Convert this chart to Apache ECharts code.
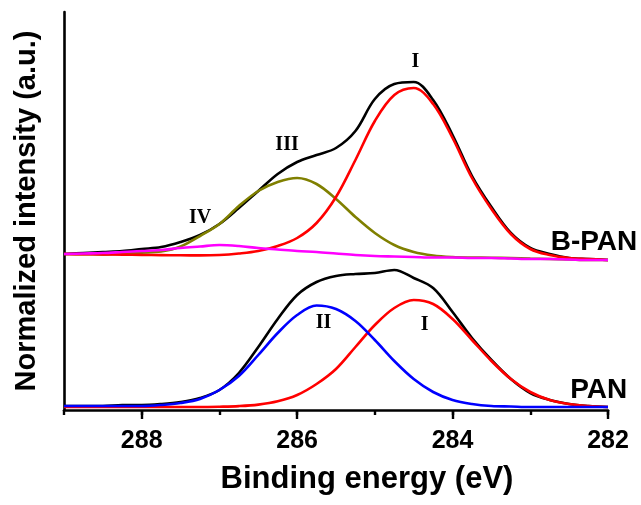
<!DOCTYPE html>
<html lang="en">
<head>
<meta charset="UTF-8">
<title>C1s XPS - PAN / B-PAN</title>
<script src="https://cdn.jsdelivr.net/npm/echarts@6/dist/echarts.min.js"></script>
<style>
  html, body { margin: 0; padding: 0; background: #fff; }
  #chart { width: 641px; height: 505px; }
</style>
</head>
<body>
<div id="chart"></div>
<script>
// binding energy (eV), read every 0.25 eV
var energies = [289, 288.75, 288.5, 288.25, 288, 287.75, 287.5, 287.25, 287, 286.75, 286.5, 286.25, 286, 285.75,
  285.5, 285.25, 285, 284.75, 284.5, 284.25, 284, 283.75, 283.5, 283.25, 283, 282.75, 282.5, 282.25, 282];

// PAN (lower spectrum)
var panTotal = [4, 4, 4, 5, 5, 6, 8, 12, 20, 37, 63, 91, 115, 128, 134, 136, 137, 140, 132, 122, 98, 72, 50, 31, 17, 10, 6, 4, 3];
var panI     = [3, 3, 3, 3, 3, 3, 3, 3, 3.3, 3.9, 5.4, 8.7, 15, 26, 41, 63, 85, 102, 110, 106, 91, 70, 49, 31, 18, 10, 6, 4, 3];
var panII    = [4, 4, 4, 4, 4, 5, 7, 11, 20, 34, 55, 77, 95, 104.5, 101, 89, 70, 49, 31, 18, 10, 6, 4, 3.5, 3, 3, 3, 3, 3];

// B-PAN (upper spectrum, offset)
var bpanTotal = [156, 157, 158, 159, 161, 163, 168, 175, 186, 202, 219, 236, 248, 255, 262, 279, 311, 326, 328, 310, 275, 234, 203, 177, 162, 156, 152, 151, 150];
var bpanI     = [156, 155.8, 155.6, 155.4, 155.1, 154.9, 154.7, 154.6, 155, 156.5, 159, 164, 172, 187, 213, 250, 289, 315, 322, 306, 272, 232, 201, 176, 161, 155, 152, 151, 150];
var bpanIII   = [156, 155.8, 155.6, 156.3, 157.3, 158.5, 163.5, 174, 186, 204, 219, 228, 232, 226, 211, 193, 177, 165, 158, 154.5, 153, 152.5, 152.3, 152, 151.5, 151, 150.5, 150, 150];
var bpanIV    = [156, 156.5, 157, 158, 159, 160, 162, 163.5, 165, 164, 162, 160.5, 159, 158, 156.5, 155, 154, 153.5, 153, 152.5, 152.5, 152, 152, 151.5, 151, 151, 150.5, 150, 150];

// peak labels [text, energy, intensity]
var peakLabels = [['I', 284.48, 348], ['III', 286.13, 265], ['IV', 287.25, 192], ['II', 285.66, 87], ['I', 284.36, 85]];
var sampleLabels = [['B-PAN', 282.18, 168], ['PAN', 282.12, 20]];

var xTicks = { min: 282, max: 289, major: 2, minor: 1 };

function pairs(vals) {
  return energies.map(function (e, i) { return [e, vals[i]]; });
}
function curve(name, vals, color) {
  return {
    name: name, type: 'line', data: pairs(vals), smooth: 0.35,
    showSymbol: false, symbol: 'none', silent: true,
    lineStyle: { color: color, width: 2.6 }
  };
}
function textSeries(list, font, size) {
  return {
    type: 'scatter', symbolSize: 1, silent: true, clip: false,
    itemStyle: { color: 'rgba(0,0,0,0)', opacity: 1 },
    data: list.map(function (d) { return { name: d[0], value: [d[1], d[2]] }; }),
    label: {
      show: true, position: 'inside', formatter: '{b}', color: '#000', opacity: 1,
      textBorderWidth: 0,
      fontFamily: font, fontWeight: 'bold', fontSize: size
    }
  };
}

var chart = echarts.init(document.getElementById('chart'));
chart.setOption({
  animation: false,
  backgroundColor: '#fff',
  grid: { left: 64, right: 33, top: 12, bottom: 95 },
  xAxis: [{
    type: 'value', inverse: true, min: xTicks.min, max: xTicks.max, interval: xTicks.major,
    name: 'Binding energy (eV)', nameLocation: 'middle', nameGap: 54,
    nameTextStyle: { fontFamily: 'Liberation Sans, Arial', fontWeight: 'bold', fontSize: 31, color: '#000', padding: [0, 0, 0, 62] },
    axisLine: { lineStyle: { color: '#000', width: 2.6 } },
    axisTick: { show: true, inside: false, length: 9, lineStyle: { color: '#000', width: 2.4 } },
    axisLabel: { showMaxLabel: false, margin: 19, fontFamily: 'Liberation Sans, Arial', fontWeight: 'bold', fontSize: 25, color: '#000' },
    splitLine: { show: false }
  }, {
    type: 'value', inverse: true, min: xTicks.min, max: xTicks.max, interval: xTicks.minor,
    position: 'bottom',
    axisLine: { show: false },
    axisTick: { show: true, inside: false, length: 5, lineStyle: { color: '#000', width: 2.4 } },
    axisLabel: { show: false },
    splitLine: { show: false }
  }],
  yAxis: {
    type: 'value', min: 0, max: 398,
    name: 'Normalized intensity (a.u.)', nameLocation: 'middle', nameGap: 23, nameRotate: 90,
    nameTextStyle: { fontFamily: 'Liberation Sans, Arial', fontWeight: 'bold', fontSize: 29, color: '#000' },
    axisLine: { show: true, lineStyle: { color: '#000', width: 2.6 } },
    axisTick: { show: false },
    axisLabel: { show: false },
    splitLine: { show: false }
  },
  series: [
    curve('PAN', panTotal, '#000000'),
    curve('PAN I', panI, '#ff0000'),
    curve('PAN II', panII, '#0000ff'),
    curve('B-PAN', bpanTotal, '#000000'),
    curve('B-PAN III', bpanIII, '#808000'),
    curve('B-PAN I', bpanI, '#ff0000'),
    curve('B-PAN IV', bpanIV, '#ff00ff'),
    textSeries(peakLabels, 'Liberation Serif, Times New Roman', 20),
    textSeries(sampleLabels, 'Liberation Sans, Arial', 28)
  ]
});
</script>
</body>
</html>
